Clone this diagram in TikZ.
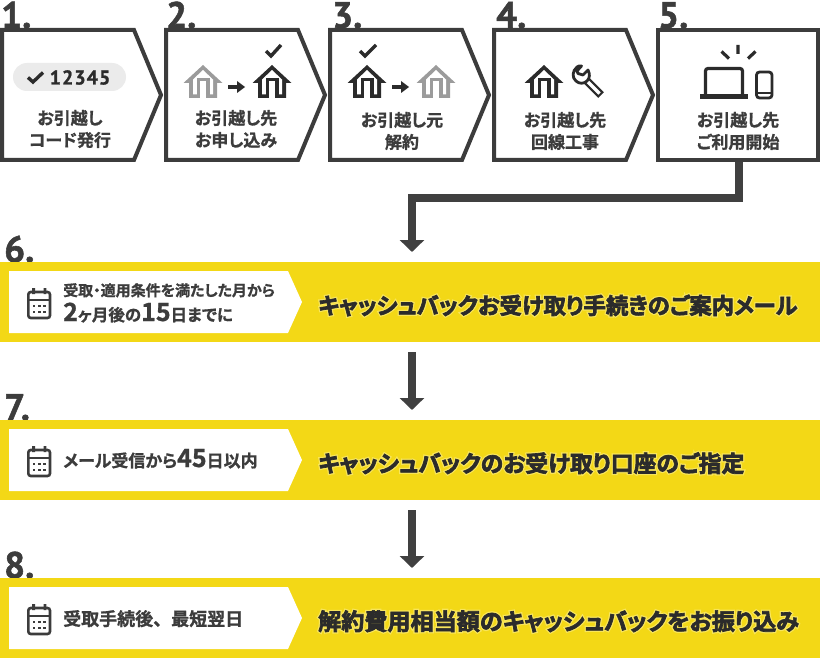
\documentclass[tikz,border=0pt]{standalone}
\usepackage{fontspec}
\usetikzlibrary{arrows.meta}
\newfontfamily\jpf[RawFeature={+palt},FakeBold=1]{Noto Sans CJK JP Bold}
\newfontfamily\jpplain[FakeBold=1]{Noto Sans CJK JP Bold}
\newfontfamily\headf[RawFeature={+palt},FakeBold=3]{Noto Sans CJK JP Bold}
\newfontfamily\haloF[RawFeature={+palt},FakeBold=14]{Noto Sans CJK JP Bold}
\newfontfamily\numf[FakeBold=1.5]{PT Sans Bold}
\newfontfamily\pillf[LetterSpace=5,FakeBold=1]{PT Sans Bold}
\definecolor{ink}{HTML}{3C3C3C}
\definecolor{dark}{HTML}{2B2B2B}
\definecolor{ghost}{HTML}{9B9B9B}
\definecolor{band}{HTML}{F3D816}
\definecolor{halo}{HTML}{F8E55C}
\definecolor{pill}{HTML}{EBEBEB}
\tikzset{
  stepframe/.style={draw=ink,line width=4pt,fill=white,miter limit=10},
  numlabel/.style={anchor=base west,inner sep=0pt,text=ink,font=\numf\fontsize{37}{37}\selectfont},
  boxtext/.style={align=center,inner sep=0pt,text=ink,font=\jpf\fontsize{17}{22}\selectfont},
  smalltext/.style={anchor=base west,inner sep=0pt,text=ink,font=\jpf\fontsize{15}{15}\selectfont},
  headtext/.style={anchor=base west,inner sep=0pt,text=dark},
  flow/.style={draw=dark!90!white,line width=8pt,-{Triangle[length=12pt,width=24pt]}},
  tick/.style={draw=dark,line width=3.4pt},
}
\newcommand{\housepic}[3]{%
  \begin{scope}[shift={(#1,#2)}]
    \fill[#3] (0,0)--(19.5,18)--(14,18)--(14,33)--(-14,33)--(-14,18)--(-19.5,18)--cycle;
    \fill[white] (0,5)--(10,14.5)--(10,29.5)--(-10,29.5)--(-10,14.5)--cycle;
    \fill[#3] (-6.5,13) rectangle (6.5,33);
    \fill[white] (-2.8,16.5) rectangle (2.8,33);
  \end{scope}}
\newcommand{\smallarrow}[2]{%
  \fill[dark,shift={(#1,#2)}] (0,-1.8)--(9,-1.8)--(9,-6)--(17,0)--(9,6)--(9,1.8)--(0,1.8)--cycle;}
\newcommand{\calpic}[2]{%
  \begin{scope}[shift={(#1,#2)}]
    \draw[ink,line width=2.6pt,rounded corners=2.5pt] (1.3,4)rectangle(23,30);
    \fill[ink] (1.3,10.5) rectangle (23,12.5);
    \fill[ink] (5.2,0) rectangle (8,6) (16.5,0) rectangle (19.3,6);
    \foreach \cx in {5.5,10.8,16.2}\foreach \cy in {16.5,22.5}
      \fill[ink] (\cx,\cy) rectangle ++(2.8,2.8);
  \end{scope}}
\newcommand{\bandpic}[1]{%
  \begin{scope}[shift={(0,#1)}]
    \fill[band] (0,0) rectangle (820,80);
    \fill[white] (9,9)--(288,9)--(302,40)--(288,71)--(9,71)--cycle;
  \end{scope}}
\newcommand{\headline}[4]{%
  \node[headtext,text=halo,font=\haloF\fontsize{#3}{#3}\selectfont] at (318,#2) {#4};
  \node[headtext,font=\headf\fontsize{#3}{#3}\selectfont] (#1) at (318,#2) {#4};}
\begin{document}
\begin{tikzpicture}[x=1pt,y=-1pt]
\useasboundingbox (0,0) rectangle (820,658);
% numbers
\node[numlabel] (n1) at (1,28) {1.};
\node[numlabel] (n2) at (166,28) {2.};
\node[numlabel] (n3) at (332,28) {3.};
\node[numlabel] (n4) at (496,28) {4.};
\node[numlabel] (n5) at (658,28) {5.};
\node[numlabel] (n6) at (4,262) {6.};
\node[numlabel] (n7) at (4,420) {7.};
\node[numlabel] (n8) at (4,578) {8.};
% step frames
\foreach \ox in {0,164,328,492}
  \draw[stepframe,shift={(\ox,0)}] (2,30)--(134,30)--(161,95)--(134,160)--(2,160)--cycle;
\draw[stepframe] (658,30) rectangle (818,160);
% step 1
\fill[pill,rounded corners=14pt] (13,63) rectangle (126,91);
\draw[tick] (28,77.5)--(33,82)--(43,72.5);
\node[inner sep=0pt,text=dark,font=\pillf\fontsize{20}{20}\selectfont] (code) at (80,77.5) {12345};
\node[boxtext] (t1) at (70,129) {お引越し\\コード発行};
% step 2
\housepic{203}{65}{ghost}
\smallarrow{228}{87}
\housepic{272}{65}{dark}
\draw[tick] (266,51)--(271,56)--(281,45);
\node[boxtext] (t2) at (236,129) {お引越し先\\お申し込み};
% step 3
\housepic{367}{65}{dark}
\smallarrow{392}{87}
\housepic{436}{65}{ghost}
\draw[tick] (360,51)--(365,56)--(376,45);
\node[boxtext] (t3) at (402,131) {お引越し元\\解約};
% step 4
\housepic{544}{65}{dark}
\draw[dark,line width=8pt] (583,77)--(601,95);
\draw[white,line width=3.4pt] (581,75)--(599.5,93.5);
\draw[dark,line width=2.8pt,fill=white,line join=round] (577,67) .. controls (572,71) and (572,78) .. (576,81) .. controls (579,84) and (584,84) .. (587,81) .. controls (590,78) and (590,74) .. (588,70) -- (583,75) -- (578,73.5) -- (577,71) -- (581.5,66) .. controls (580,65.5) and (578,66) .. (577,67) -- cycle;
\node[boxtext] (t4) at (565,131) {お引越し先\\回線工事};
% step 5
\draw[dark,line width=3.2pt,rounded corners=2.5pt] (705.5,97)--(705.5,68.5)--(742.5,68.5)--(742.5,97);
\fill[dark] (700,94.5) rectangle (748,99);
\draw[dark,line width=2.8pt,rounded corners=3pt] (756.5,72) rectangle (772,98);
\fill[dark] (756.5,92) rectangle (772,94);
\draw[dark,line width=3.2pt] (738,45)--(738,54) (721.5,51.5)--(729,58.5) (755.5,51.5)--(748,58.5);
\node[boxtext] (t5) at (738,131) {お引越し先\\ご利用開始};
% bands
\bandpic{262}
\bandpic{420}
\bandpic{578}
\calpic{27}{288}
\calpic{27}{446}
\calpic{27}{604}
\node[smalltext] (s6a) at (63,296) {受取・適用条件を満たした月から};
\node[smalltext,font=\jpf\fontsize{16.5}{17}\selectfont] (s6b) at (63,321) {{\fontsize{25}{25}\selectfont 2}ヶ月後の{\fontsize{25}{25}\selectfont 15}日までに};
\node[smalltext,font=\jpf\fontsize{17}{17}\selectfont] (s7) at (63,467) {メール受信から{\fontsize{25}{25}\selectfont 45}日以内};
\node[smalltext,font=\jpplain\fontsize{18}{18}\selectfont] (s8) at (63,625.5) {受取手続後、最短翌日};
\headline{h6}{314}{22.4}{キャッシュバックお受け取り手続きのご案内メール}
\headline{h7}{472}{22.8}{キャッシュバックのお受け取り口座のご指定}
\headline{h8}{630}{23.1}{解約費用相当額のキャッシュバックをお振り込み}
% connectors
\coordinate (c5) at (739,162);
\coordinate (a6) at (412,252);
\coordinate (c6) at (412,352);
\coordinate (a7) at (412,410);
\coordinate (c7) at (412,510);
\coordinate (a8) at (412,568);
\draw[flow] (c5)--(c5 |- 0,198)--(a6 |- 0,198)--(a6);
\draw[flow] (c6)--(a7);
\draw[flow] (c7)--(a8);
\end{tikzpicture}
\end{document}
